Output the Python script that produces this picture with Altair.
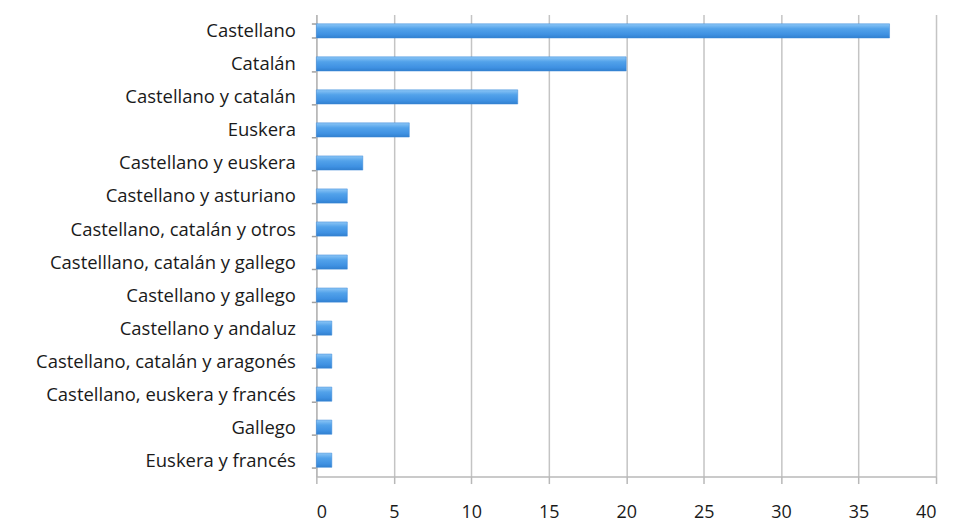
import altair as alt
import pandas as pd

languages = [
    "Castellano",
    "Catalán",
    "Castellano y catalán",
    "Euskera",
    "Castellano y euskera",
    "Castellano y asturiano",
    "Castellano, catalán y otros",
    "Castelllano, catalán y gallego",
    "Castellano y gallego",
    "Castellano y andaluz",
    "Castellano, catalán y aragonés",
    "Castellano, euskera y francés",
    "Gallego",
    "Euskera y francés",
]
counts = [37, 20, 13, 6, 3, 2, 2, 2, 2, 1, 1, 1, 1, 1]

df = pd.DataFrame({"lengua": languages, "n": counts})

grad = alt.Gradient(
    gradient="linear",
    x1=0, y1=0, x2=0, y2=1,
    stops=[
        alt.GradientStop(color="#8cc6f6", offset=0),
        alt.GradientStop(color="#52a2ea", offset=0.35),
        alt.GradientStop(color="#3f91e2", offset=0.75),
        alt.GradientStop(color="#3180cf", offset=1),
    ],
)

chart = (
    alt.Chart(df)
    .mark_bar(fill=grad, stroke="#3a88d8", strokeWidth=0.5)
    .encode(
        x=alt.X(
            "n:Q",
            scale=alt.Scale(domain=[0, 40], nice=False),
            axis=alt.Axis(
                title=None,
                values=[0, 5, 10, 15, 20, 25, 30, 35, 40],
                grid=True,
                gridColor="#c4c4c4",
                gridWidth=1.5,
                domainColor="#b8b8b8",
                domainWidth=1.5,
                tickColor="#b8b8b8",
                tickWidth=1.5,
                tickSize=7,
                labelPadding=20,
                labelFont="Open Sans",
                labelFontSize=18,
                labelColor="#1a1a1a",
            ),
        ),
        y=alt.Y(
            "lengua:N",
            sort=languages,
            scale=alt.Scale(paddingInner=0.57, paddingOuter=0.28),
            axis=alt.Axis(
                title=None,
                grid=False,
                domainColor="#b8b8b8",
                domainWidth=1.5,
                tickColor="#a0a0a0",
                tickWidth=1.5,
                tickSize=5,
                tickBand="extent",
                labelPadding=16,
                labelFont="Open Sans",
                labelFontSize=18.5,
                labelColor="#1a1a1a",
                labelLimit=400,
            ),
        ),
    )
    .properties(
        width=621,
        height=463,
        autosize=alt.AutoSizeParams(type="none"),
        padding={"left": 309, "top": 6, "right": 10, "bottom": 45},
    )
    .configure_view(stroke=None)
)

chart.save("out.html", embed_options={"renderer": "svg", "actions": False})
